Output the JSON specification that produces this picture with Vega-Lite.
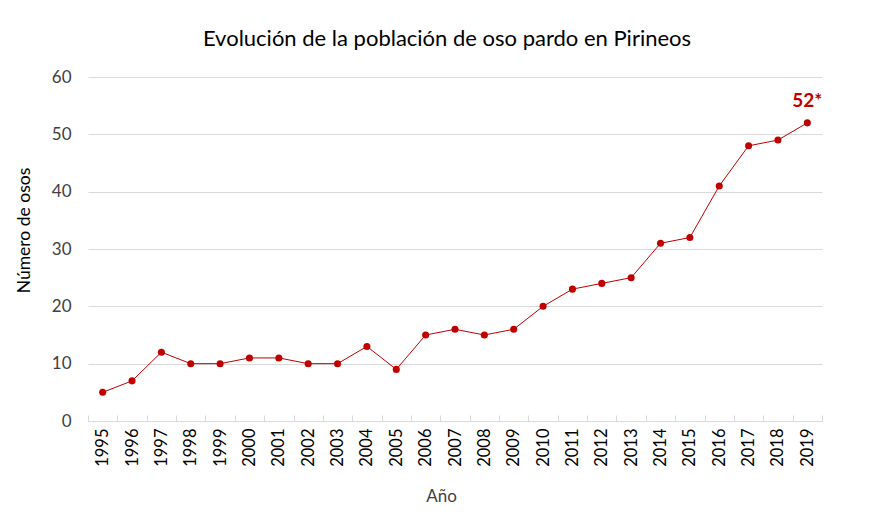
{
  "$schema": "https://vega.github.io/schema/vega-lite/v6.json",
  "description": "Evolución de la población de oso pardo en Pirineos",
  "autosize": "none",
  "padding": {"left": 88, "top": 77, "right": 48, "bottom": 104},
  "width": 734,
  "height": 344,
  "background": "white",
  "title": {
    "text": "Evolución de la población de oso pardo en Pirineos",
    "font": "Lato",
    "fontSize": 22,
    "fontWeight": "normal",
    "color": "#000000",
    "offset": 17,
    "dx": -8
  },
  "data": {
    "values": [
      {"year": "1995", "osos": 5},
      {"year": "1996", "osos": 7},
      {"year": "1997", "osos": 12},
      {"year": "1998", "osos": 10},
      {"year": "1999", "osos": 10},
      {"year": "2000", "osos": 11},
      {"year": "2001", "osos": 11},
      {"year": "2002", "osos": 10},
      {"year": "2003", "osos": 10},
      {"year": "2004", "osos": 13},
      {"year": "2005", "osos": 9},
      {"year": "2006", "osos": 15},
      {"year": "2007", "osos": 16},
      {"year": "2008", "osos": 15},
      {"year": "2009", "osos": 16},
      {"year": "2010", "osos": 20},
      {"year": "2011", "osos": 23},
      {"year": "2012", "osos": 24},
      {"year": "2013", "osos": 25},
      {"year": "2014", "osos": 31},
      {"year": "2015", "osos": 32},
      {"year": "2016", "osos": 41},
      {"year": "2017", "osos": 48},
      {"year": "2018", "osos": 49},
      {"year": "2019", "osos": 52, "label": "52*"}
    ]
  },
  "encoding": {
    "x": {
      "field": "year",
      "type": "ordinal",
      "title": "Año",
      "scale": {"paddingInner": 0, "paddingOuter": 0},
      "axis": {
        "labelAngle": -90,
        "labelAlign": "right",
        "labelBaseline": "middle",
        "labelFont": "Lato",
        "labelFontSize": 16.5,
        "labelColor": "#000000",
        "labelPadding": 13,
        "tickBand": "extent",
        "tickColor": "#d9d9d9",
        "tickSize": -6,
        "domainColor": "#d9d9d9",
        "titleFont": "Lato",
        "titleFontSize": 17,
        "titleFontWeight": "normal",
        "titleColor": "#404040",
        "titlePadding": 22,
        "titleX": 353
      }
    },
    "y": {
      "field": "osos",
      "type": "quantitative",
      "title": "Número de osos",
      "scale": {"domain": [0, 60]},
      "axis": {
        "values": [0, 10, 20, 30, 40, 50, 60],
        "domain": false,
        "ticks": false,
        "gridColor": "#d9d9d9",
        "labelFont": "Lato",
        "labelFontSize": 17,
        "labelColor": "#404040",
        "labelPadding": 17,
        "titleFont": "Lato",
        "titleFontSize": 17.5,
        "titleFontWeight": "normal",
        "titleColor": "#000000",
        "titlePadding": 18,
        "titleY": 153
      }
    }
  },
  "layer": [
    {
      "mark": {"type": "line", "color": "#c00000", "strokeWidth": 1}
    },
    {
      "mark": {"type": "point", "filled": true, "color": "#c00000", "size": 50, "opacity": 1}
    },
    {
      "transform": [{"filter": "datum.label != null"}],
      "mark": {"type": "text", "color": "#c00000", "font": "Lato", "fontSize": 19, "fontWeight": "bold", "dy": -22, "dx": 0},
      "encoding": {"text": {"field": "label"}}
    }
  ],
  "config": {"view": {"stroke": null}}
}
